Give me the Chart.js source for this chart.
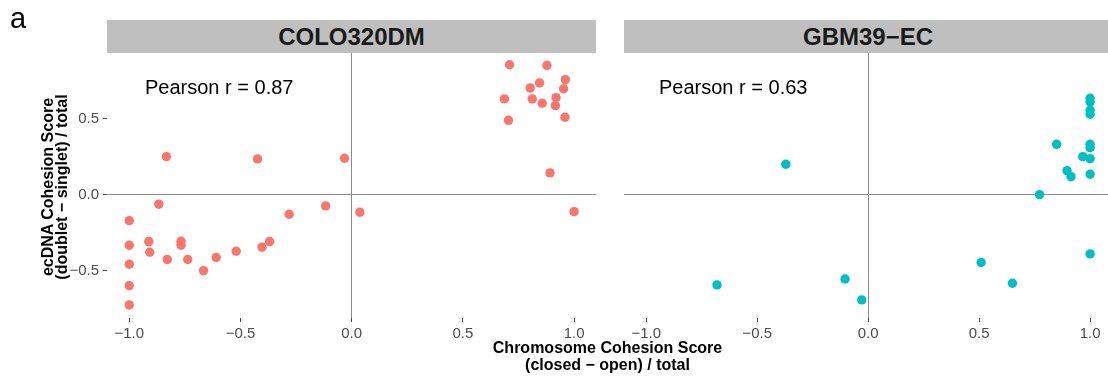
<!DOCTYPE html>
<html>
<head>
<meta charset="utf-8">
<script src="https://cdn.jsdelivr.net/npm/chart.js@4.4.1/dist/chart.umd.min.js"></script>
<style>
  html, body { margin: 0; padding: 0; background: #fff; overflow: hidden; width: 1108px; height: 379px; }
  body { position: relative; font-family: "Liberation Sans", Arial, Helvetica, sans-serif; }
  .abs { position: absolute; white-space: nowrap; }
  .strip { position: absolute; background: #BFBFBF; color: #1A1A1A; font-weight: bold; font-size: 24px; text-align: center; line-height: 33px; height: 33px; top: 20px; }
  .pearson { font-size: 20px; line-height: 20px; color: #000; }
  .chartbox { position: absolute; top: 0; height: 379px; }
</style>
</head>
<body>
<script>
// ---------------- data ----------------
const panelNames = ["COLO320DM", "GBM39\u2212EC"];
const pearsonLabels = ["Pearson r = 0.87", "Pearson r = 0.63"];

const coloX = [0.71, 0.878, 0.961, 0.845, 0.803, 0.953, 0.687, 0.812, 0.919, 0.857, 0.916, 0.705, 0.959, 0.892, 1.0,
               -0.833, -0.423, -0.032, -0.867, -0.117, 0.037, -0.281, -1.0, -1.0, -0.912, -0.908, -0.767, -0.767,
               -0.829, -0.737, -0.609, -0.519, -0.403, -0.369, -0.666, -1.0, -1.0, -1.0];
const coloY = [0.857, 0.853, 0.759, 0.737, 0.704, 0.699, 0.632, 0.632, 0.640, 0.603, 0.588, 0.491, 0.511, 0.145, -0.11,
               0.252, 0.237, 0.241, -0.061, -0.072, -0.114, -0.127, -0.169, -0.331, -0.307, -0.377, -0.305, -0.331,
               -0.425, -0.425, -0.412, -0.371, -0.344, -0.307, -0.498, -0.456, -0.597, -0.724];

const gbmX = [1.0, 1.0, 1.0, 1.0, 0.849, 1.0, 1.0, 0.967, 1.0, 0.896, 0.914, 1.0, 0.772, -0.371, 1.0, 0.509, 0.650,
              -0.681, -0.104, -0.029];
const gbmY = [0.636, 0.612, 0.557, 0.531, 0.333, 0.333, 0.311, 0.252, 0.239, 0.160, 0.120, 0.136, 0.002, 0.202,
              -0.388, -0.445, -0.581, -0.592, -0.553, -0.691];

const xTicks = [-1, -0.5, 0, 0.5, 1];
const yTicks = [-0.5, 0, 0.5];
const xLimits = [-1.1, 1.1];
const yLimits = [-0.81, 0.934];
const colors = ["#F8766D", "#00BFC4"];
// --------------------------------------

const fontFam = '"Liberation Sans", Arial, Helvetica, sans-serif';
const fmt = v => (Math.abs(v) < 1e-9 ? "0.0" : v.toFixed(1).replace("-", "\u2212"));

function el(tag, cls, style, html) {
  const d = document.createElement(tag);
  if (cls) d.className = cls;
  Object.assign(d.style, style);
  if (html !== undefined) d.innerHTML = html;
  document.body.appendChild(d);
  return d;
}

function makePanel(idx, left, width, xs, ys, showY) {
  const box = el("div", "chartbox", { left: left + "px", width: width + "px" });
  const cv = document.createElement("canvas");
  box.appendChild(cv);
  const pts = xs.map((x, i) => ({ x: x, y: ys[i] }));
  new Chart(cv, {
    type: "scatter",
    data: { datasets: [{ data: pts, backgroundColor: colors[idx], borderWidth: 0, pointRadius: 4.7, pointHoverRadius: 4.7 }] },
    options: {
      responsive: true, maintainAspectRatio: false, animation: false, devicePixelRatio: 1,
      layout: { padding: { top: 53, right: 0, left: showY ? 0 : 24, bottom: 0 } },
      plugins: { legend: { display: false }, tooltip: { enabled: false } },
      scales: {
        x: {
          type: "linear", min: xLimits[0], max: xLimits[1],
          afterBuildTicks: s => { s.ticks = xTicks.map(v => ({ value: v })); },
          afterFit: s => { s.height = 61; },
          border: { display: false },
          grid: {
            drawOnChartArea: true, drawTicks: true, tickLength: 4, lineWidth: 1,
            color: c => (c.tick && c.tick.value === 0 ? "#8C8C8C" : "rgba(0,0,0,0)"),
            tickColor: "#4D4D4D"
          },
          ticks: { callback: v => fmt(v), color: "#4D4D4D", font: { family: fontFam, size: 15 }, padding: 3, maxRotation: 0, autoSkip: false }
        },
        y: {
          type: "linear", min: yLimits[0], max: yLimits[1],
          afterBuildTicks: s => { s.ticks = yTicks.map(v => ({ value: v })); },
          afterFit: s => { s.width = showY ? 107 : 0; },
          border: { display: false },
          grid: {
            drawOnChartArea: true, drawTicks: showY, tickLength: 4, lineWidth: 1,
            color: c => (c.tick && c.tick.value === 0 ? "#8C8C8C" : "rgba(0,0,0,0)"),
            tickColor: "#4D4D4D"
          },
          ticks: { display: showY, callback: v => fmt(v), color: "#4D4D4D", font: { family: fontFam, size: 15 }, padding: 4 }
        }
      }
    }
  });
}

// panels (containers slightly wider: Chart.js reserves room for the last tick label)
makePanel(0, 0, 601, coloX, coloY, true);
makePanel(1, 600, 517, gbmX, gbmY, false);

// facet strips
el("div", "strip", { left: "107px", width: "489px" }, panelNames[0]);
el("div", "strip", { left: "624px", width: "488px" }, panelNames[1]);

// annotations
el("div", "abs pearson", { left: "145px", top: "76.5px" }, pearsonLabels[0]);
el("div", "abs pearson", { left: "659px", top: "76.5px" }, pearsonLabels[1]);

// panel tag
el("div", "abs", { left: "10px", top: "3.5px", fontSize: "29px", lineHeight: "29px", color: "#000" }, "a");

// x axis title
el("div", "abs", { left: "407.5px", width: "400px", top: "339px", textAlign: "center", fontWeight: "bold", fontSize: "16px", lineHeight: "17.4px", color: "#000" },
   "Chromosome Cohesion Score<br>(closed \u2212 open) / total");

// y axis title (rotated)
el("div", "abs", { left: "-145px", width: "400px", top: "172.5px", height: "28px", textAlign: "center", fontWeight: "bold", fontSize: "16px", lineHeight: "14px", color: "#000", transform: "rotate(-90deg)", transformOrigin: "200px 14px" },
   "ecDNA Cohesion Score<br>(doublet \u2212 singlet) / total");
</script>
</body>
</html>
